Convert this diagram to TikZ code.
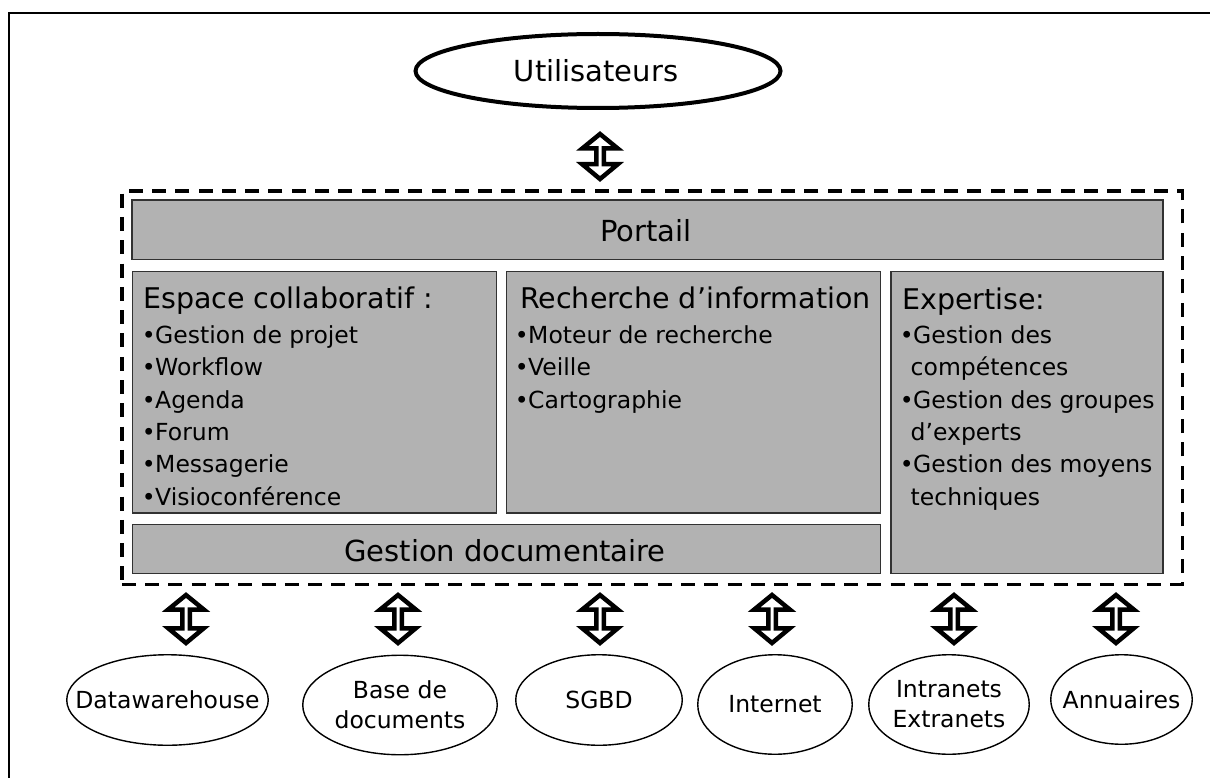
\documentclass[tikz,border=0pt]{standalone}
\usepackage{fontspec}
\setmainfont{DejaVu Sans}
\usetikzlibrary{shapes.geometric,calc}
\definecolor{boxgray}{RGB}{178,178,178}
\definecolor{edgegray}{RGB}{50,50,50}
\newcommand\bul{\makebox[10pt][l]{\kern-3.4pt•}}
\newcommand\blockarrow[2]{%
  \draw[blockarrow] let \p1=#1, \p2=#2 in
    (\x1,\y1) -- (\x1+17.75pt,\y1-14.5pt) -- (\x1+3.75pt,\y1-14.5pt)
    -- (\x1+3.75pt,\y2+14.75pt) -- (\x1+17.75pt,\y2+14.75pt) -- (\x1,\y2)
    -- (\x1-17.75pt,\y2+14.75pt) -- (\x1-3.75pt,\y2+14.75pt)
    -- (\x1-3.75pt,\y1-14.5pt) -- (\x1-17.75pt,\y1-14.5pt) -- cycle;}
\begin{document}
\begin{tikzpicture}[x=1pt,y=-1pt,
  graybox/.style={draw=edgegray, fill=boxgray, line width=1.5pt, inner sep=0pt, anchor=north west},
  bigtext/.style={inner sep=0pt, anchor=base, font=\fontsize{29}{34}\selectfont},
  headtext/.style={inner sep=0pt, anchor=base west, font=\fontsize{28.5}{34}\selectfont},
  listtext/.style={inner sep=0pt, anchor=base west, font=\fontsize{23.5}{28}\selectfont},
  source/.style={draw, ellipse, line width=1.4pt, inner sep=0pt},
  srctext/.style={inner sep=0pt, align=center, font=\fontsize{23.5}{30}\selectfont},
  blockarrow/.style={draw=black, fill=white, line width=4.5pt},
  dashframe/.style={draw, line width=3.5pt, dash pattern=on 14pt off 9.3pt, inner sep=0pt, anchor=north west},
]
\useasboundingbox[fill=white] (0,0) rectangle (1210,778);
% page border (cropped)
\draw[line width=2.5pt] (9,778) -- (9,13) -- (1210,13);

% users
\node[draw, ellipse, line width=4pt, minimum width=365pt, minimum height=74pt, inner sep=0pt] (users) at (598,71) {};
\node[bigtext] (userst) at (596,82) {Utilisateurs};

% dashed frame
\node[dashframe, minimum width=1060.5pt, minimum height=393pt] (frame) at (120,189.5) {};

% boxes
\node[graybox, minimum width=1031pt, minimum height=59pt] (portail) at (131,199.5) {};
\node[bigtext] (portailt) at (646,241.5) {Portail};

\node[graybox, minimum width=364pt, minimum height=241.5pt] (espace) at (131.5,270.5) {};
\node[graybox, minimum width=374pt, minimum height=241.5pt] (recherche) at (505.5,270.5) {};
\node[graybox, minimum width=748pt, minimum height=49pt] (gestdoc) at (131.5,523.5) {};
\node[graybox, minimum width=272pt, minimum height=302pt] (expertise) at (890,270.5) {};
\node[bigtext] (gestdoct) at (505,561) {Gestion documentaire};

% Espace collaboratif
\node[headtext] (esph) at (143,308.3) {Espace collaboratif :};
\foreach \t [count=\i] in {Gestion de projet, Workflow, Agenda, Forum, Messagerie, Visioconférence}
  \node[listtext] (esp\i) at (145,{343.3+(\i-1)*32.35}) {\bul \t};

% Recherche d'information
\node[headtext] (rech) at (520,308.3) {Recherche d’information};
\foreach \t [count=\i] in {Moteur de recherche, Veille, Cartographie}
  \node[listtext] (rec\i) at (518,{343.3+(\i-1)*32.35}) {\bul \t};

% Expertise
\node[headtext] (exph) at (902,309) {Expertise:};
\node[listtext] (exp1) at (903,343.3) {\bul Gestion des};
\node[listtext] (exp2) at (910.5,375.6) {compétences};
\node[listtext] (exp3) at (903,408) {\bul Gestion des groupes};
\node[listtext] (exp4) at (910.5,440.3) {d’experts};
\node[listtext] (exp5) at (903,472.7) {\bul Gestion des moyens};
\node[listtext] (exp6) at (910.5,505) {techniques};

% sources
\node[source, minimum width=201.5pt, minimum height=90.5pt] (dw) at (167.5,700) {};
\node[srctext] (dwt) at (dw.center) {Datawarehouse};
\node[source, minimum width=194.5pt, minimum height=99.5pt] (bd) at (400,705) {};
\node[srctext] (bdt) at (bd.center) {Base de\\documents};
\node[source, minimum width=166.5pt, minimum height=90.5pt] (sg) at (599,700) {};
\node[srctext] (sgt) at (sg.center) {SGBD};
\node[source, minimum width=154.5pt, minimum height=99.5pt] (inet) at (775,704.5) {};
\node[srctext] (inett) at (inet.center) {Internet};
\node[source, minimum width=160.5pt, minimum height=99.5pt] (ie) at (949,704.5) {};
\node[srctext] (iet) at (ie.center) {Intranets\\Extranets};
\node[source, minimum width=141.5pt, minimum height=89.5pt] (an) at (1121.5,699.5) {};
\node[srctext] (ant) at (an.center) {Annuaires};

% arrows
\coordinate (ua) at (600,134);
\coordinate (ub) at (600,179);
\blockarrow{(ua)}{(ub)}
\foreach \k/\x in {1/186, 2/398, 3/600, 4/772, 5/954, 6/1116} {
  \coordinate (at\k) at (\x,595);
  \coordinate (ab\k) at (\x,643);
  \blockarrow{(at\k)}{(ab\k)}
}
\end{tikzpicture}
\end{document}
